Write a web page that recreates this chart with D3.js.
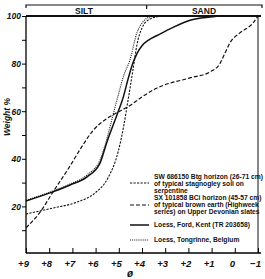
<!DOCTYPE html>
<html>
<head>
<meta charset="utf-8">
<script src="https://cdn.jsdelivr.net/npm/d3@7"></script>
<style>
  body { margin: 0; background: #fff; }
  svg { display: block; }
  text { font-family: "Liberation Sans", Arial, sans-serif; fill: #111; }
</style>
</head>
<body>
<div id="container"></div>
<script>
/**
 * CONSTANTS AND GLOBALS
 * */
const width = 265,
  height = 279,
  margin = { top: 16, bottom: 26, left: 26, right: 7 };

// phi grain size (x) and cumulative weight % (y)
const phiTicks = [9, 8, 7, 6, 5, 4, 3, 2, 1, 0, -1];
const tickLabels = ["+9", "+8", "+7", "+6", "+5", "+4", "+3", "+2", "+1", "0", "\u22121"];
const weightTicks = [10, 20, 30, 40, 50, 60, 70, 80, 90, 100];

const swPhi = [9, 7.84, 6.8, 6.03, 5.47, 5.03, 4.78, 4.6, 4.39, 4.22, 4.0, 3.66, 3.14];
const swWeight = [16.8, 19.3, 21.8, 25.6, 31.9, 42.9, 54.2, 64.7, 77.3, 87.8, 95, 98.7, 100];

const sxPhi = [9, 8.4, 7.84, 7.1, 6.6, 6.1, 5.5, 5.0, 4.5, 4.0, 3.4, 1.93, 1.07, 0.64, 0.42, 0.21, -0.22, -0.78, -1];
const sxWeight = [11, 17.5, 26, 37, 45, 52, 57, 59.8, 62.5, 66, 69.5, 74, 76.5, 80, 84.5, 88.7, 92.9, 97, 100];

const fordPhi = [9, 7.84, 7.1, 6.37, 5.81, 5.51, 5.08, 4.82, 4.6, 4.4, 4.2, 4.0, 3.7, 3.35, 2.66, 1.93, 0.94, 0.72];
const fordWeight = [22.3, 26.1, 29.0, 32.4, 38.2, 47.1, 58.4, 65.5, 73.5, 80, 84.5, 87.5, 90, 91.8, 95.2, 98.2, 99.7, 100];

const tongPhi = [9, 7.84, 7.1, 6.37, 5.81, 5.47, 5.25, 5.08, 4.78, 4.52, 4.22, 3.96, 3.66, 3.22];
const tongWeight = [22.6, 26.5, 29.4, 33.2, 39.5, 50, 58.4, 64.7, 75.2, 81.5, 92.9, 97.5, 99.6, 100];

const legendLines = [
  ["SW 686150 Btg horizon (26-71 cm)", "of typical stagnogley soil on", "serpentine"],
  ["SX 101858 BCi horizon (45-57 cm)", "of typical brown earth (Highweek", "series) on Upper Devonian slates"],
  ["Loess, Ford, Kent (TR 203658)"],
  ["Loess, Tongrinne, Belgium"]
];

const series = [
  { phi: swPhi, w: swWeight, dash: "2.2,1.3", sw: 1.1 },
  { phi: sxPhi, w: sxWeight, dash: "4,2", sw: 1.2 },
  { phi: fordPhi, w: fordWeight, dash: null, sw: 1.5 },
  { phi: tongPhi, w: tongWeight, dash: "1,1.1", sw: 1.1 }
];

/**
 * DRAW
 * */
const svg = d3.select("#container")
  .append("svg")
  .attr("width", width)
  .attr("height", height);

const x = d3.scaleLinear().domain([9, -1]).range([margin.left, width - margin.right]);
const y = d3.scaleLinear().domain([0, 100]).range([254, margin.top]);
const bottom = 253;

// frame
svg.append("line").attr("x1", x(9)).attr("x2", x(-1) + 3).attr("y1", y(100)).attr("y2", y(100))
  .attr("stroke", "#111").attr("stroke-width", 1.8);
svg.append("line").attr("x1", x(-1)).attr("x2", x(-1)).attr("y1", y(100)).attr("y2", bottom)
  .attr("stroke", "#111").attr("stroke-width", 1);

// left axis
const yAxis = svg.append("g")
  .attr("transform", `translate(${x(9)},0)`)
  .call(d3.axisLeft(y).tickValues(weightTicks).tickSize(4)
    .tickFormat(d => d % 20 === 0 ? d : ""));
yAxis.select(".domain").attr("d", `M-0,${y(100)}V${bottom}`).attr("stroke-width", 1.3);
yAxis.selectAll("text")
  .attr("font-size", 8.5).attr("font-style", "italic").attr("font-weight", "bold")
  .attr("x", -5).attr("dy", "0.35em")
  .style("font-family", "'Liberation Sans', Arial, sans-serif");

// bottom axis
const xAxis = svg.append("g")
  .attr("transform", `translate(0,${bottom})`)
  .call(d3.axisBottom(x).tickValues(phiTicks).tickSize(-5)
    .tickFormat((d, i) => tickLabels[i]));
xAxis.select(".domain").attr("d", `M${x(9)},0H${x(-1) + 3}`).attr("stroke-width", 1.3);
xAxis.selectAll("text")
  .attr("font-size", 9.5).attr("font-style", "italic").attr("font-weight", "bold")
  .attr("y", 7).attr("dy", "0.71em").attr("dx", -3)
  .style("font-family", "'Liberation Sans', Arial, sans-serif");

// top SILT / SAND bracket
const bracketY = 5;
svg.append("path")
  .attr("d", `M${x(9)},${bracketY + 3}V${bracketY}H${x(-1) + 4}V${bracketY + 3}M${x(3.8)},${bracketY}V${bracketY + 4}`)
  .attr("fill", "none").attr("stroke", "#111").attr("stroke-width", 1.2);
svg.append("text").attr("x", 84).attr("y", 13.5).attr("text-anchor", "middle")
  .attr("font-size", 8.5).attr("font-weight", "bold").text("SILT");
svg.append("text").attr("x", 204).attr("y", 13.5).attr("text-anchor", "middle")
  .attr("font-size", 8.5).attr("font-weight", "bold").text("SAND");

// axis titles
svg.append("text")
  .attr("transform", `translate(10,117) rotate(-90)`)
  .attr("text-anchor", "middle").attr("font-size", 8.5)
  .attr("font-style", "italic").attr("font-weight", "bold").text("Weight %");
svg.append("text").attr("x", 130).attr("y", 277).attr("text-anchor", "middle")
  .attr("font-size", 10).attr("font-style", "italic").attr("font-weight", "bold").text("\u00f8");

// curves
const line = d3.line()
  .x(d => x(d[0]))
  .y(d => y(d[1]))
  .curve(d3.curveMonotoneX);

svg.selectAll(".curve")
  .data(series)
  .join("path")
  .attr("class", "curve")
  .attr("d", s => line(s.phi.map((p, i) => [p, s.w[i]])))
  .attr("fill", "none")
  .attr("stroke", "#111")
  .attr("stroke-width", s => s.sw)
  .attr("stroke-dasharray", s => s.dash);

// legend
const legendTop = [177, 198, 225, 240];
const legendSample = [183, 205, 225, 240];
const lg = svg.append("g");
series.forEach((s, i) => {
  lg.append("line")
    .attr("x1", 130).attr("x2", 149)
    .attr("y1", legendSample[i]).attr("y2", legendSample[i])
    .attr("stroke", "#111").attr("stroke-width", s.sw)
    .attr("stroke-dasharray", s.dash);
  legendLines[i].forEach((t, j) => {
    lg.append("text")
      .attr("x", 154).attr("y", legendTop[i] + j * 6.8)
      .attr("dy", "0.35em")
      .attr("font-size", 6.7).attr("font-weight", "bold")
      .text(t);
  });
});
</script>
</body>
</html>
